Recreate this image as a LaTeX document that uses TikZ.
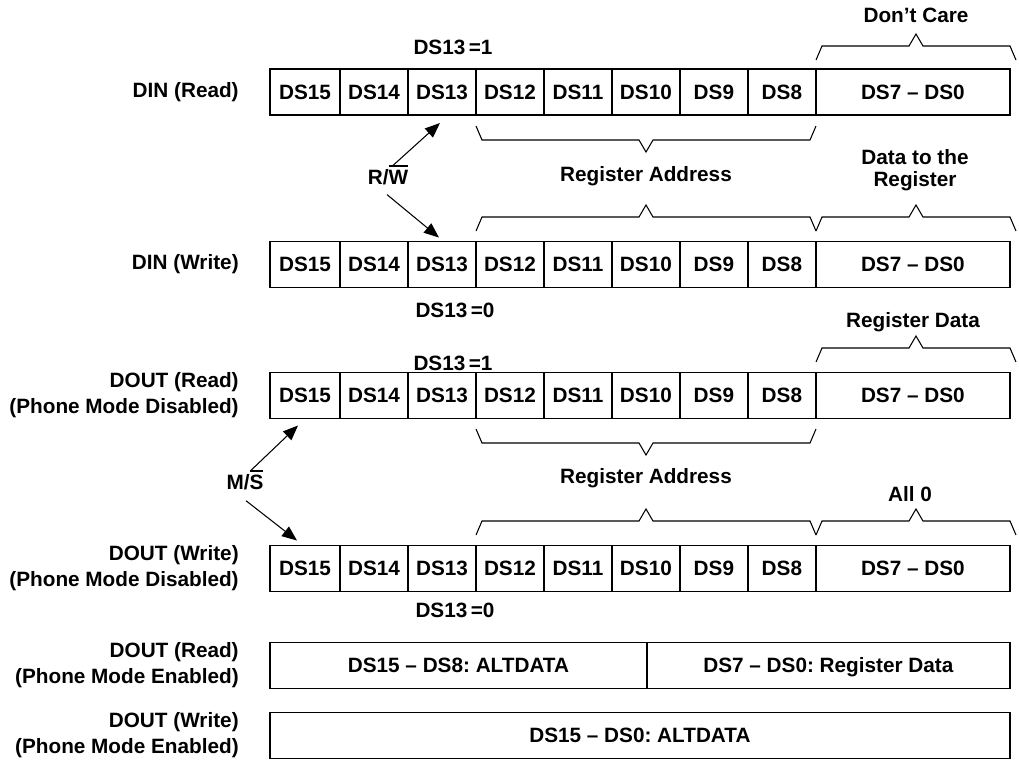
\documentclass[tikz,border=0pt]{standalone}
\usepackage{fontspec}
\setmainfont{Liberation Sans}
\usetikzlibrary{positioning,arrows.meta}
\frenchspacing

\newcommand{\lblfont}{\bfseries\fontsize{11.8pt}{14.7pt}\selectfont}
\newcommand{\notbar}[1]{\setbox0=\hbox{#1}\rlap{\rule[\dimexpr\ht0+2.2pt\relax]{\wd0}{1.1pt}}\box0}
% brace over a field, ends at y=#3, tip pointing up
\newcommand{\upbrace}[3]{%
  \draw[fieldbrace] (#1,#3) -- ({#1+6},{#3-14}) -- ({(#1+#2)/2-7},{#3-14})
    -- ({(#1+#2)/2},{#3-26}) -- ({(#1+#2)/2+7},{#3-14}) -- ({#2-6},{#3-14}) -- (#2,#3);}
% brace under a field, tip pointing down
\newcommand{\downbrace}[3]{%
  \draw[fieldbrace] (#1,#3) -- ({#1+6},{#3+14}) -- ({(#1+#2)/2-7},{#3+14})
    -- ({(#1+#2)/2},{#3+26}) -- ({(#1+#2)/2+7},{#3+14}) -- ({#2-6},{#3+14}) -- (#2,#3);}

\begin{document}
\begin{tikzpicture}[
  x=0.02cm, y=-0.02cm,
  cell/.style={draw, line width=0.9pt, outer sep=0pt, inner sep=0pt,
    minimum height=0.92cm, minimum width=1.36cm, text height=8.4pt, text depth=0pt,
    font=\lblfont},
  rowlbl/.style={align=right, inner sep=0pt, font=\lblfont},
  note/.style={align=center, inner sep=0pt, font=\lblfont},
  fieldbrace/.style={line width=0.6pt},
  sig/.style={line width=0.6pt, -{Triangle[length=0.3cm, width=0.24cm]}}
]
  \useasboundingbox (0,0) rectangle (1019,762);

  % bit rows DS15 ... DS8 | DS7 -- DS0
  \foreach \r/\y in {1/92, 2/264.5, 3/395.5, 4/568.5} {
    \node[cell, minimum width=1.4cm, anchor=west] (r\r b15) at (270,\y) {DS15};
    \foreach \b [remember=\b as \p (initially 15)] in {14,...,8}
      \node[cell, right=0pt of r\r b\p] (r\r b\b) {DS\b};
    \node[cell, minimum width=3.88cm, right=0pt of r\r b8] (r\r lo) {DS7 -- DS0};
  }

  % phone mode rows
  \node[cell, minimum width=7.54cm, anchor=west] (r5hi) at (270,665.5) {DS15 -- DS8: ALTDATA};
  \node[cell, minimum width=7.26cm, right=0pt of r5hi] (r5lo) {DS7 -- DS0: Register Data};
  \node[cell, minimum width=14.8cm, anchor=west] (r6) at (270,735.5) {DS15 -- DS0: ALTDATA};

  % row labels
  \node[rowlbl, left=0.62cm of r1b15] (l1) {DIN (Read)};
  \node[rowlbl, left=0.62cm of r2b15] (l2) {DIN (Write)};
  \node[rowlbl, left=0.62cm of r3b15] (l3) {DOUT (Read)\\(Phone Mode Disabled)};
  \node[rowlbl, left=0.62cm of r4b15] (l4) {DOUT (Write)\\(Phone Mode Disabled)};
  \node[rowlbl, left=0.62cm of r5hi] (l5) {DOUT (Read)\\(Phone Mode Enabled)};
  \node[rowlbl, left=0.62cm of r6] (l6) {DOUT (Write)\\(Phone Mode Enabled)};

  % field notes
  \node[note] (dc) at (916,15) {Don't Care};
  \node[note] (b1) at (453,47) {DS13\,=1};
  \node[note] (ra1) at (646,176) {Register Address};
  \node[note, font=\bfseries\fontsize{11.8pt}{12.5pt}\selectfont] (dr) at (915,170) {Data to the\\Register};
  \node[note] (b2) at (455,310) {DS13\,=0};
  \node[note] (rd) at (913,322) {Register Data};
  \node[note] (b3) at (453,363) {DS13\,=1};
  \node[note] (ra2) at (646,478) {Register Address};
  \node[note] (a0) at (910,494) {All 0};
  \node[note] (b4) at (455,610) {DS13\,=0};
  \node[note] (rw) at (388,175) {R/\notbar{W}};
  \node[note] (ms) at (245,480) {M/\notbar{S}};

  % braces
  \upbrace{816}{1016}{60}
  \downbrace{476}{816}{126}
  \upbrace{476}{816}{231}
  \upbrace{816}{1016}{231}
  \upbrace{816}{1016}{362}
  \downbrace{476}{816}{429}
  \upbrace{476}{816}{535}
  \upbrace{816}{1016}{535}

  % R/W and M/S arrows
  \draw[sig] ([shift={(5,1)}]rw.north) -- ([shift={(-2,8)}]r1b13.south);
  \draw[sig] ([shift={(-1,9)}]rw.south) -- ([shift={(-3,-4)}]r2b13.north);
  \draw[sig] ([shift={(6,1)}]ms.north) -- ([shift={(-7,7)}]r3b15.south);
  \draw[sig] ([shift={(1,10)}]ms.south) -- ([shift={(-8,-5)}]r4b15.north);
\end{tikzpicture}
\end{document}
